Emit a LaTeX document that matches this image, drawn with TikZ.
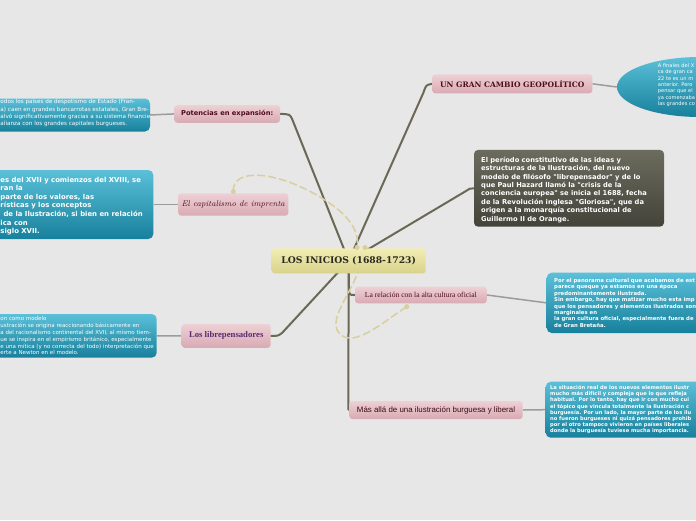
\documentclass[tikz,border=0pt]{standalone}
\usepackage{fontspec}
\usetikzlibrary{shapes.geometric}
\newfontfamily\dvs{DejaVu Sans}
\newfontfamily\dvserif{DejaVu Serif}
\newfontfamily\libserif{Liberation Serif}
\newfontfamily\libsans{Liberation Sans}
\definecolor{bgc}{HTML}{E7E7E7}
\definecolor{lineC}{HTML}{6B6956}
\definecolor{infoC}{HTML}{9C9C9C}
\definecolor{relC}{HTML}{D8CE9E}
\definecolor{pinkT}{HTML}{EDD0D5}
\definecolor{pinkB}{HTML}{D9AAB3}
\definecolor{yelT}{HTML}{F2EEB4}
\definecolor{yelB}{HTML}{D9D28B}
\definecolor{blueT}{HTML}{5BC0D8}
\definecolor{blueM}{HTML}{2592AE}
\definecolor{blueB}{HTML}{17809C}
\definecolor{darkT}{HTML}{6B6B5E}
\definecolor{darkB}{HTML}{43433A}
\definecolor{maroon}{HTML}{4E0D1B}
\definecolor{purp}{HTML}{5C2A72}
\definecolor{cenT}{HTML}{2A2A20}
\pgfdeclarelayer{bg}
\pgfsetlayers{bg,main}
\begin{document}
\begin{tikzpicture}[x=1pt,y=-1pt,
  pinkbox/.style={rectangle, rounded corners=3pt, top color=pinkT, bottom color=pinkB, inner sep=0pt, text=maroon},
  yelbox/.style={rectangle, rounded corners=3pt, top color=yelT, bottom color=yelB, inner sep=0pt},
  bluebox/.style={rectangle, rounded corners=5pt, top color=blueT, middle color=blueM, bottom color=blueB, inner sep=0pt},
  darkbox/.style={rectangle, rounded corners=4pt, top color=darkT, bottom color=darkB, inner sep=0pt},
  btxt/.style={text=white, align=left, inner sep=0pt, anchor=north west},
  mainline/.style={draw=lineC, line width=2pt, line cap=round},
  infoline/.style={draw=infoC, line width=1.5pt},
  relline/.style={draw=relC, line width=1.5pt, dash pattern=on 8pt off 3pt},
  reldot/.style={circle, fill=relC, inner sep=0pt, minimum size=5pt}]
\begin{pgfonlayer}{bg}
\fill[bgc] (0,0) rectangle (696,520);
\end{pgfonlayer}
\useasboundingbox (0,0) rectangle (696,520);

% central node
\node[yelbox, minimum width=154pt, minimum height=25pt, text=cenT,
  font=\dvserif\bfseries\fontsize{9.2}{11}\selectfont] (cen) at (348.7,260.8) {LOS INICIOS (1688-1723)};

% subtopics
\node[pinkbox, minimum width=160pt, minimum height=19pt,
  font=\dvserif\bfseries\fontsize{7.5}{9}\selectfont] (ungran) at (512.3,83.8) {UN GRAN CAMBIO GEOPOLÍTICO};
\node[pinkbox, minimum width=105.7pt, minimum height=17.7pt,
  font=\dvs\bfseries\fontsize{6.7}{8}\selectfont] (pot) at (227.2,113.9) {Potencias en expansión:};
\node[pinkbox, minimum width=110pt, minimum height=22.4pt,
  font=\rmfamily\itshape\fontsize{8.2}{10}\selectfont] (cap) at (233.3,204.5) {El capitalismo de imprenta};
\node[pinkbox, minimum width=131.7pt, minimum height=16.6pt,
  font=\libserif\fontsize{7.6}{9}\selectfont] (rel) at (420.9,295) {La relación con la alta cultura oficial};
\node[pinkbox, minimum width=89pt, minimum height=23.7pt, text=purp,
  font=\libserif\bfseries\fontsize{8.7}{10}\selectfont] (lib) at (226.2,335.9) {Los librepensadores};
\node[pinkbox, minimum width=173.4pt, minimum height=18pt, text=maroon!80!black,
  font=\libsans\fontsize{7.9}{9}\selectfont] (mas) at (436,410) {Más allá de una ilustración burguesa y liberal};

% dark box
\node[darkbox, minimum width=190pt, minimum height=76.7pt] (dark) at (569,188.3) {};
\node[btxt, font=\dvs\bfseries\fontsize{6.7}{8.43}\selectfont] (darkt) at (481,156.7) {El período constitutivo de las ideas y\\estructuras de la Ilustración, del nuevo\\modelo de filósofo "librepensador" y de lo\\que Paul Hazard llamó la "crisis de la\\conciencia europea" se inicia el 1688, fecha\\de la Revolución inglesa "Gloriosa", que da\\origen a la monarquía constitucional de\\Guillermo II de Orange.};

% ellipse
\node[ellipse, minimum width=166pt, minimum height=60pt, top color=blueT, middle color=blueM, bottom color=blueB, inner sep=0pt] (ell) at (700,87) {};
\node[btxt, font=\dvs\fontsize{5.1}{6.43}\selectfont] (ellt) at (657.7,63.2) {A finales del X\\ca de gran ca\\22 te es un m\\anterior. Pero\\pensar que el\\ya comenzaba\\las grandes co};

% blue boxes
\node[bluebox, minimum width=160pt, minimum height=33pt] (b1) at (70,115) {};
\node[btxt, font=\dvs\fontsize{5.65}{7.4}\selectfont] (b1t) at (0.3,98.9) {odos los países de despotismo de Estado (Fran-\\a) caen en grandes bancarrotas estatales, Gran Bre-\\alvó significativamente gracias a su sistema financie-\\alianza con los grandes capitales burgueses.};

\node[bluebox, minimum width=163.3pt, minimum height=69pt] (b2) at (71.65,204.5) {};
\node[btxt, font=\dvs\bfseries\fontsize{6.9}{8.6}\selectfont] (b2t) at (0.3,176.6) {es del XVII y comienzos del XVIII, se\\ran la\\parte de los valores, las\\rísticas y los conceptos\\\hspace*{3pt}de la Ilustración, si bien en relación\\ica con\\siglo XVII.};

\node[bluebox, minimum width=166.7pt, minimum height=43.7pt] (b3) at (73.35,335.85) {};
\node[btxt, font=\dvs\fontsize{5.5}{6.8}\selectfont] (b3t) at (0.3,316.6) {on como modelo\\ustración se origina reaccionando básicamente en\\a del racionalismo continental del XVII, al mismo tiem-\\ue se inspira en el empirismo británico, especialmente\\e una mítica (y no correcta del todo) interpretación que\\erte a Newton en el modelo.};

\node[bluebox, minimum width=163.3pt, minimum height=60.3pt] (b4) at (628.35,302.85) {};
\node[btxt, font=\dvs\bfseries\fontsize{5.35}{6.43}\selectfont] (b4t) at (554,278.1) {Por el panorama cultural que acabamos de est\\parece queque ya estamos en una época\\predominantemente ilustrada.\\Sin embargo, hay que matizar mucho esta imp\\que los pensadores y elementos ilustrados son\\marginales en\\la gran cultura oficial, especialmente fuera de\\de Gran Bretaña.};

\node[bluebox, minimum width=164.3pt, minimum height=56pt] (b5) at (627.85,409.7) {};
\node[btxt, font=\dvs\bfseries\fontsize{5.15}{6.2}\selectfont] (b5t) at (550,385.2) {La situación real de los nuevos elementos ilustr\\mucho más difícil y compleja que lo que refleja\\habitual. Por lo tanto, hay que ir con mucho cui\\el tópico que vincula totalmente la Ilustración c\\burguesía. Por un lado, la mayor parte de los ilu\\no fueron burgueses ni quizá pensadores prohib\\por el otro tampoco vivieron en países liberales\\donde la burguesía tuviese mucha importancia.};

% relation dot coordinates
\coordinate (d1) at (233.3,191.5);
\coordinate (d2) at (357,247.5);
\coordinate (d3) at (406.7,306.7);
\coordinate (d4) at (365,247.5);

\begin{pgfonlayer}{bg}
% main connectors
\draw[mainline] (cen.center) -- (292.5,120) .. controls (290,114.2) .. (pot.east);
\draw[mainline] (cen.center) -- (423.5,92.5) .. controls (426,85) .. (ungran.west);
\draw[mainline] (cen.center) -- (466,191) .. controls (470,188.4) .. (dark.west);
\draw[mainline] (cen.center) -- (282,333) .. controls (278,335.9) .. (lib.east);
\draw[mainline] (cen.center) -- (349,287) .. controls (349,295) .. (rel.west);
\draw[mainline] (cen.center) -- (348.3,403) .. controls (348.3,410) .. (mas.west);
% info connectors
\draw[infoline] (pot.west) -- (b1.east);
\draw[infoline] (cap.west) -- (b2.east);
\draw[infoline] (lib.west) -- (b3.east);
\draw[infoline] (ungran.east) -- (ell.west);
\draw[infoline] (rel.east) -- (b4.west);
\draw[infoline] (mas.east) -- (b5.west);
% relationship curves
\draw[relline] (d1) .. controls (232,168) and (275,170) .. (320,197) .. controls (345,212) and (360,228) .. (d2);
\draw[relline] (d3) .. controls (380,324) and (350,352) .. (337,330) .. controls (330,312) and (360,285) .. (d4);
\end{pgfonlayer}

\node[reldot] (r1) at (d1) {};
\node[reldot] (r2) at (d2) {};
\node[reldot] (r3) at (d3) {};
\node[reldot] (r4) at (d4) {};
\end{tikzpicture}
\end{document}
